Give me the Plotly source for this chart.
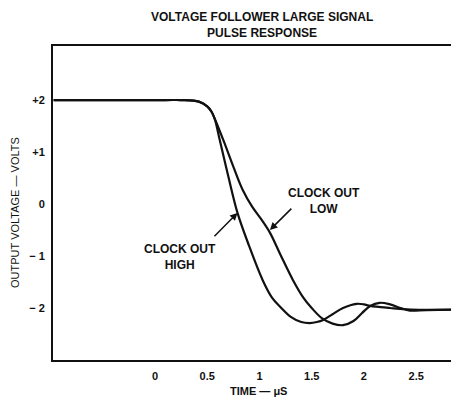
import plotly.graph_objects as go

# clock out high (left curve)
high_t = [-0.97, 0.1, 0.25, 0.42, 0.5, 0.54, 0.57, 0.62, 0.7, 0.79, 0.9, 1.03, 1.12,
          1.2, 1.3, 1.4, 1.48, 1.55, 1.61, 1.7, 1.8, 1.93, 2.0, 2.06, 2.25, 2.45, 2.95]
high_v = [2.0, 2.0, 2.0, 1.97, 1.88, 1.78, 1.65, 1.23, 0.55, -0.17, -0.8, -1.46, -1.8,
          -1.98, -2.17, -2.27, -2.29, -2.27, -2.23, -2.12, -2.0, -1.92, -1.93, -1.96,
          -2.0, -2.03, -2.03]

# clock out low (right curve)
low_t = [-0.97, 0.1, 0.25, 0.42, 0.5, 0.54, 0.57, 0.66, 0.75, 0.84, 0.93, 1.02, 1.1,
         1.2, 1.32, 1.42, 1.5, 1.6, 1.7, 1.8, 1.9, 1.98, 2.06, 2.15, 2.25, 2.35, 2.44,
         2.6, 2.95]
low_v = [2.0, 2.0, 2.0, 1.97, 1.88, 1.78, 1.65, 1.2, 0.72, 0.27, -0.05, -0.3, -0.55,
         -0.97, -1.46, -1.8, -2.0, -2.2, -2.3, -2.33, -2.25, -2.1, -1.96, -1.9, -1.93,
         -2.0, -2.05, -2.04, -2.03]

x_ticks = [0, 0.5, 1, 1.5, 2, 2.5]
x_labels = ["0", "0.5", "1", "1.5", "2", "2.5"]
y_ticks = [2, 1, 0, -1, -2]
y_labels = ["+2", "+1", "0", "\u2212 1", "\u2212 2"]

FONT = "Liberation Sans, Arial, sans-serif"

fig = go.Figure()
fig.add_trace(go.Scatter(x=high_t, y=high_v, mode="lines", line_shape="spline",
                         line=dict(color="#111", width=2.2), name="Clock out high"))
fig.add_trace(go.Scatter(x=low_t, y=low_v, mode="lines", line_shape="spline",
                         line=dict(color="#111", width=2.2), name="Clock out low"))

fig.update_xaxes(range=[-0.976, 2.91], tickvals=x_ticks, ticktext=x_labels,
                 showgrid=False, zeroline=False, showline=True, linecolor="#111",
                 linewidth=2, mirror=True, ticks="outside", ticklen=5,
                 tickcolor="rgba(0,0,0,0)", tickfont=dict(weight="bold"))
fig.update_yaxes(range=[-3.0, 3.04], tickvals=y_ticks, ticktext=y_labels,
                 showgrid=False, zeroline=False, showline=True, linecolor="#111",
                 linewidth=2, ticks="outside", ticklen=4, tickcolor="rgba(0,0,0,0)",
                 tickfont=dict(weight="bold"))

ann = [
    dict(text="<b>VOLTAGE FOLLOWER LARGE SIGNAL<br>PULSE RESPONSE</b>", xref="paper",
         yref="paper", x=0.515, y=1.068, showarrow=False, xanchor="center",
         yanchor="middle", font=dict(size=12)),
    dict(text="OUTPUT VOLTAGE \u2014 VOLTS", xref="paper", yref="paper", x=-0.094,
         y=0.471, textangle=-90, showarrow=False, xanchor="center", yanchor="middle"),
    dict(text="<b>TIME \u2014 \u03bcS</b>", xref="paper", yref="paper", x=0.505,
         y=-0.099, showarrow=False, xanchor="center", yanchor="middle"),
    dict(text="<b>CLOCK OUT<br>HIGH</b>", x=0.24, y=-1.02, showarrow=False,
         font=dict(size=12)),
    dict(text="<b>CLOCK OUT<br>LOW</b>", x=1.62, y=0.06, showarrow=False,
         font=dict(size=12)),
    dict(text="", x=0.79, y=-0.17, ax=0.555, ay=-0.65, axref="x", ayref="y",
         showarrow=True, arrowhead=2, arrowsize=1, arrowwidth=1.5, arrowcolor="#111"),
    dict(text="", x=1.1, y=-0.5, ax=1.32, ay=-0.06, axref="x", ayref="y",
         showarrow=True, arrowhead=2, arrowsize=1, arrowwidth=1.5, arrowcolor="#111"),
]
# the page body adds an 8px offset, so the figure is sized to fit the window
fig.update_layout(width=451, height=396, margin=dict(l=45, r=0, t=38, b=44),
                  plot_bgcolor="white", paper_bgcolor="white", showlegend=False,
                  font=dict(family=FONT, size=11, color="#111"), annotations=ann)

fig.write_html("out.html")
